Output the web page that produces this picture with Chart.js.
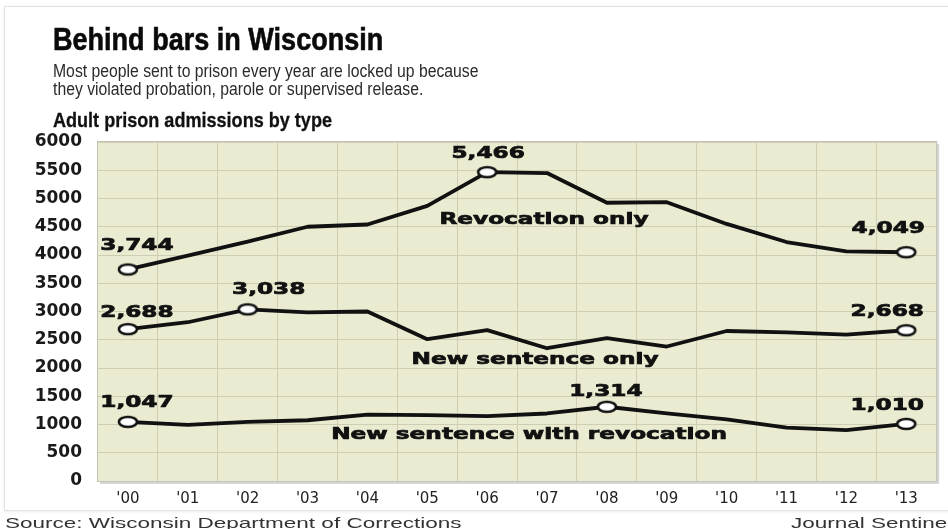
<!DOCTYPE html>
<html>
<head>
<meta charset="utf-8">
<title>Behind bars in Wisconsin</title>
<script src="https://cdn.jsdelivr.net/npm/chart.js@4.4.1/dist/chart.umd.min.js"></script>
<style>
  html, body { margin: 0; padding: 0; background: #fff; }
  body { width: 948px; height: 529px; overflow: hidden; position: relative;
         font-family: "Liberation Sans", Arial, sans-serif; color: #111; }
  .card { position: absolute; left: 4px; top: 6px; width: 990px; height: 503px;
          border: 1px solid #e2e2e2; box-shadow: 0 1px 3px rgba(0,0,0,0.08); }
  #wrap { position: absolute; left: 0; top: 0; width: 948px; height: 529px; }
  .txt { position: absolute; white-space: nowrap; transform-origin: 0 0; }
  .title { left: 53px; top: 23px; font-size: 32px; line-height: 32px; font-weight: bold;
           transform: scaleX(0.845); color: #0a0a0a; -webkit-text-stroke: 0.6px #0a0a0a; }
  .dek { left: 53px; top: 62px; font-size: 17.5px; line-height: 18px; transform: scaleX(0.9); color: #2a2a2a; }
  .head { left: 53px; top: 109px; font-size: 21px; line-height: 21px; font-weight: bold;
          transform: scaleX(0.86); color: #111; -webkit-text-stroke: 0.3px #111; }
  .source { left: 5px; top: 515px; font-size: 15px; line-height: 15px; transform: scaleX(1.5); color: #333; }
  .credit { left: 791px; top: 515px; font-size: 15px; line-height: 15px; transform: scaleX(1.5); color: #333; }
</style>
</head>
<body>
<div class="card"></div>
<div id="wrap"><canvas id="chart" width="948" height="529"></canvas></div>
<div class="txt title">Behind bars in Wisconsin</div>
<div class="txt dek">Most people sent to prison every year are locked up because<br>they violated probation, parole or supervised release.</div>
<div class="txt head">Adult prison admissions by type</div>
<div class="txt source">Source: Wisconsin Department of Corrections</div>
<div class="txt credit">Journal Sentinel</div>

<script>
/* ---------- data ---------- */
const years = ["'00", "'01", "'02", "'03", "'04", "'05", "'06", "'07", "'08", "'09", "'10", "'11", "'12", "'13"];
const revocationOnly = [3744, 3990, 4235, 4500, 4540, 4870, 5466, 5450, 4925, 4935, 4550, 4230, 4065, 4049];
const newSentenceOnly = [2688, 2810, 3038, 2985, 3000, 2510, 2670, 2350, 2530, 2380, 2655, 2630, 2590, 2668];
const newWithRevocation = [1047, 995, 1045, 1075, 1175, 1165, 1150, 1195, 1314, 1195, 1090, 945, 900, 1010];
const seriesNames = ['Revocation only', 'New sentence only', 'New sentence with revocation'];
// points that get a marker + value label
const markedPoints = [[0, 6, 13], [0, 2, 13], [0, 8, 13]];
const yTicks = { min: 0, max: 6000, step: 500 };

/* ---------- label placement (px offsets from the point) ---------- */
const valueOffsets = [
  { 0: [9, -24], 6: [1, -18], 13: [-18, -23] },
  { 0: [9, -16], 2: [21, -20], 13: [-19, -18] },
  { 0: [9, -19], 8: [-1, -15], 13: [-19, -18] }
];
// series name anchor: [category position, value]
const nameAnchors = [[6.95, 4625], [6.8, 2140], [6.7, 810]];
const STRETCH = 1.45;

function makeMarker() {
  const c = document.createElement('canvas');
  c.width = 24; c.height = 16;
  const g = c.getContext('2d');
  g.beginPath();
  g.ellipse(12, 8, 9, 5, 0, 0, Math.PI * 2);
  g.fillStyle = '#fff';
  g.fill();
  g.lineWidth = 2.5;
  g.strokeStyle = '#111';
  g.stroke();
  return c;
}
const marker = makeMarker();

// heavy, horizontally stretched label text
function wideText(ctx, text, cx, cy) {
  ctx.save();
  ctx.translate(cx, cy);
  ctx.scale(STRETCH, 1);
  ctx.fillText(text, 0, 0);
  ctx.strokeText(text, 0, 0);
  ctx.restore();
}

/* ---------- plugins ---------- */
const plotFrame = {
  id: 'plotFrame',
  beforeDraw(chart) {
    const { ctx, chartArea: a } = chart;
    ctx.save();
    ctx.fillStyle = '#d6d6d6';
    ctx.fillRect(a.left + 2, a.top + 2, a.right - a.left + 1, a.bottom - a.top + 1);
    ctx.fillStyle = '#ebebd1';
    ctx.fillRect(a.left, a.top, a.right - a.left, a.bottom - a.top);
    ctx.restore();
  },
  beforeDatasetsDraw(chart) {
    const { ctx, chartArea: a } = chart;
    ctx.save();
    ctx.strokeStyle = '#c4c4b4';
    ctx.lineWidth = 1;
    ctx.strokeRect(a.left - 0.5, a.top - 0.5, a.right - a.left + 1, a.bottom - a.top + 1);
    ctx.restore();
  }
};

const annotations = {
  id: 'annotations',
  afterDatasetsDraw(chart) {
    const { ctx } = chart;
    const xs = chart.scales.x, ys = chart.scales.y;
    ctx.save();
    ctx.fillStyle = '#111';
    ctx.strokeStyle = '#111';
    ctx.lineWidth = 0.7;
    ctx.font = 'bold 16px "DejaVu Sans"';
    ctx.textAlign = 'center';
    ctx.textBaseline = 'middle';
    chart.data.datasets.forEach((ds, di) => {
      const meta = chart.getDatasetMeta(di);
      markedPoints[di].forEach(i => {
        const pt = meta.data[i];
        const off = valueOffsets[di][i] || [0, -18];
        wideText(ctx, ds.data[i].toLocaleString('en-US'), pt.x + off[0], pt.y + off[1]);
      });
      const [cx, cv] = nameAnchors[di];
      wideText(ctx, ds.label, xs.getPixelForValue(cx), ys.getPixelForValue(cv));
    });
    ctx.restore();
  }
};

function lineSet(label, data, marks) {
  return {
    label,
    data,
    borderColor: '#111',
    borderWidth: 3.8,
    borderJoinStyle: 'round',
    borderCapStyle: 'round',
    tension: 0,
    pointStyle: marker,
    pointRadius: ctx => (marks.includes(ctx.dataIndex) ? 8 : 0),
    pointHoverRadius: 0
  };
}

new Chart(document.getElementById('chart'), {
  type: 'line',
  data: {
    labels: years,
    datasets: [
      lineSet(seriesNames[0], revocationOnly, markedPoints[0]),
      lineSet(seriesNames[1], newSentenceOnly, markedPoints[1]),
      lineSet(seriesNames[2], newWithRevocation, markedPoints[2])
    ]
  },
  options: {
    responsive: false,
    animation: false,
    events: [],
    layout: { padding: { top: 142, right: 8, bottom: 0, left: 0 } },
    plugins: { legend: { display: false }, tooltip: { enabled: false } },
    scales: {
      x: {
        offset: true,
        afterFit: s => { s.height = 48; },
        grid: { offset: true, color: '#cfcdb2', lineWidth: 1, drawTicks: false },
        border: { display: false },
        ticks: { color: '#222', padding: 9, font: { family: 'DejaVu Sans', size: 15 }, maxRotation: 0, autoSkip: false }
      },
      y: {
        min: yTicks.min,
        max: yTicks.max,
        afterFit: s => { s.width = 98; },
        grid: { color: '#cfcdb2', lineWidth: 1, drawTicks: false },
        border: { display: false },
        ticks: {
          stepSize: yTicks.step,
          padding: 16,
          color: '#1a1a1a',
          font: { family: 'DejaVu Sans', size: 17, weight: 'bold' },
          callback: v => String(v)
        }
      }
    }
  },
  plugins: [plotFrame, annotations]
});
</script>
</body>
</html>
